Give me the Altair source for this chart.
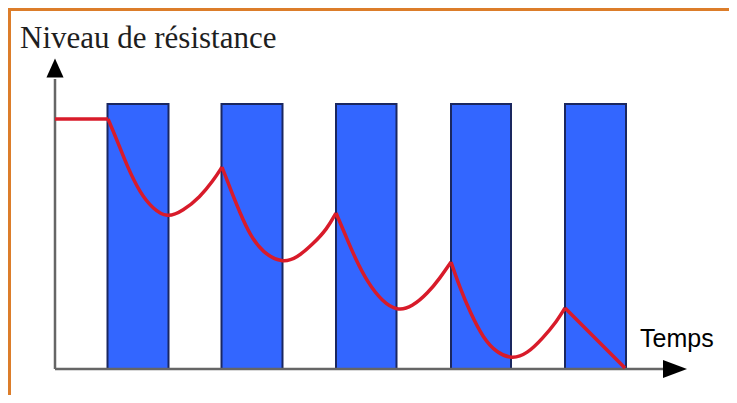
import altair as alt
import pandas as pd

# ---- data (time units along x, resistance level along y) ----
bar_start = [52.5, 166.5, 281, 396, 510]
bar_end = [113.5, 227.5, 341.5, 456, 571]
bar_top = [265, 265, 265, 265, 265]

curve_segment = (["a"] * 2 + ["b"] * 10 + ["c"] * 10 + ["d"] * 10 + ["e"] * 10 + ["f"] * 2)
curve_time = [0, 53,
              53, 62, 72, 85, 98, 112, 128, 145, 158, 167,
              167, 175, 185, 195, 208, 227, 242, 258, 272, 281,
              281, 290, 300, 313, 327, 342, 357, 373, 385, 396,
              396, 405, 415, 428, 442, 457, 472, 488, 502, 510,
              510, 570]
curve_level = [250, 250,
               250, 229, 203, 176, 160, 151, 158, 172, 188, 202,
               202, 181, 156, 134, 116, 106, 111, 125, 140, 156,
               156, 135, 111, 86, 68, 58, 62, 76, 91, 107,
               107, 81, 57, 31, 16, 10, 15, 31, 48, 61,
               61, 1]

y_label = "Niveau de résistance"
x_label = "Temps"

bars_df = pd.DataFrame({"start": bar_start, "end": bar_end, "top": bar_top,
                        "base": [0] * len(bar_start)})
curve_df = pd.DataFrame({"t": curve_time, "level": curve_level, "seg": curve_segment})
axes_df = pd.DataFrame({"x0": [0], "x1": [612], "y0": [0], "y1": [290]})
arrows_df = pd.DataFrame({"ax": [0, 620], "ay": [301, 0], "dir": ["up", "right"]})
one = alt.Data(values=[{"k": 1}])

xs = alt.Scale(domain=[-47, 674], nice=False, zero=False)
ys = alt.Scale(domain=[-26, 361], nice=False, zero=False)

bars = alt.Chart(bars_df).mark_rect(
    fill="#3366ff", stroke="#1a2760", strokeWidth=2
).encode(
    x=alt.X("start:Q", scale=xs, axis=None),
    x2="end:Q",
    y=alt.Y("base:Q", scale=ys, axis=None),
    y2="top:Q",
)

v_axis = alt.Chart(axes_df).mark_rule(color="#666666", strokeWidth=2.5).encode(
    x=alt.X("x0:Q", scale=xs, axis=None), y=alt.Y("y0:Q", scale=ys, axis=None), y2="y1:Q"
)
h_axis = alt.Chart(axes_df).mark_rule(color="#666666", strokeWidth=2.5).encode(
    x=alt.X("x0:Q", scale=xs, axis=None), x2="x1:Q", y=alt.Y("y0:Q", scale=ys, axis=None)
)

curve = alt.Chart(curve_df).mark_line(
    color="#d81b2a", strokeWidth=3.5, interpolate="basis"
).encode(
    x=alt.X("t:Q", scale=xs, axis=None),
    y=alt.Y("level:Q", scale=ys, axis=None),
    detail="seg:N",
)

up_arrow = alt.Chart(arrows_df).transform_filter("datum.dir == 'up'").mark_point(
    shape="M0,-1L0.9,1L-0.9,1Z", filled=True, color="black", opacity=1, size=361
).encode(x=alt.X("ax:Q", scale=xs, axis=None), y=alt.Y("ay:Q", scale=ys, axis=None))

right_arrow = alt.Chart(arrows_df).transform_filter("datum.dir == 'right'").mark_point(
    shape="M1,0L-1,-0.75L-1,0.75Z", filled=True, color="black", opacity=1, size=576
).encode(x=alt.X("ax:Q", scale=xs, axis=None), y=alt.Y("ay:Q", scale=ys, axis=None))

title_txt = alt.Chart(one).mark_text(
    text=y_label, font="Liberation Serif", fontSize=31, color="#1e1e1e",
    align="left", baseline="alphabetic"
).encode(x=alt.value(12), y=alt.value(40))

temps_txt = alt.Chart(one).mark_text(
    text=x_label, font="Liberation Sans", fontSize=25, color="black",
    align="left", baseline="alphabetic"
).encode(x=alt.value(632), y=alt.value(339))

border_top = alt.Chart(one).mark_rule(color="#dc7d2a", strokeWidth=3).encode(
    x=alt.value(0), x2=alt.value(721), y=alt.value(1.5)
)
border_left = alt.Chart(one).mark_rule(color="#dc7d2a", strokeWidth=3).encode(
    x=alt.value(1.5), y=alt.value(0), y2=alt.value(387)
)

chart = alt.layer(
    bars, v_axis, h_axis, curve, up_arrow, right_arrow, title_txt, temps_txt,
    border_top, border_left
).properties(
    width=721, height=387, padding=0,
    autosize=alt.AutoSizeParams(type="none"),
    background="white",
).configure_view(stroke=None)

chart.save("out.html", embed_options={"renderer": "svg", "actions": False})
